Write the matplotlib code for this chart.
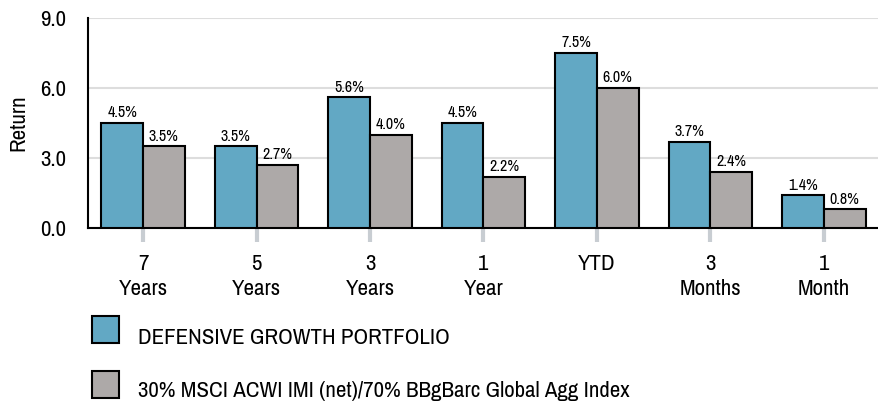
import matplotlib
matplotlib.use("Agg")
import matplotlib.pyplot as plt
import numpy as np
from matplotlib.patches import Rectangle

plt.rcParams['font.family'] = ['Archivo Narrow', 'Liberation Sans', 'DejaVu Sans']

categories = ["7\nYears", "5\nYears", "3\nYears", "1\nYear", "YTD", "3\nMonths", "1\nMonth"]
portfolio = [4.5, 3.5, 5.6, 4.5, 7.5, 3.7, 1.4]
benchmark = [3.5, 2.7, 4.0, 2.2, 6.0, 2.4, 0.8]
series_names = ["DEFENSIVE GROWTH PORTFOLIO",
                "30% MSCI ACWI IMI (net)/70% BBgBarc Global Agg Index"]
yticks = [0.0, 3.0, 6.0, 9.0]

blue = "#62A8C4"
grey = "#ADA9A8"
W, H = 879, 404
FS = 16.5

fig = plt.figure(figsize=(W/100, H/100), dpi=100)
ax = fig.add_axes([88/W, (H-228)/H, 1-88/W, 210/H])

x = np.arange(len(categories))
w = 0.367
b1 = ax.bar(x - w/2, portfolio, w, color=blue, edgecolor="black", linewidth=1.5, zorder=3)
b2 = ax.bar(x + w/2, benchmark, w, color=grey, edgecolor="black", linewidth=1.5, zorder=3)
for bars, vals in ((b1, portfolio), (b2, benchmark)):
    ax.bar_label(bars, labels=[f"{v:.1f}%" for v in vals], padding=2, fontsize=11.5)

ax.set_xlim(-0.485, len(categories) - 1 + 0.485)
ax.set_ylim(0, 9)
ax.set_yticks(yticks)
ax.set_yticklabels([f"{t:.1f}" for t in yticks], fontsize=FS)
ax.tick_params(axis='y', length=0, pad=16)
ax.set_xticks(x)
ax.set_xticklabels(categories, fontsize=FS, linespacing=1.3)
ax.tick_params(axis='x', length=10, width=3, color="#C8CDD2", pad=9)
ax.grid(axis='y', color="#DDDDDD", linewidth=1.5, zorder=0)
ax.set_axisbelow(True)
for s in ("top", "right"):
    ax.spines[s].set_visible(False)
ax.spines['left'].set_linewidth(1.5)
ax.spines['bottom'].set_linewidth(1.5)
ax.set_ylabel("Return", fontsize=FS)
ax.yaxis.set_label_coords(-60/791, 0.5)

# legend drawn in figure pixels
colors = [blue, grey]
patch_tops = [316, 371]
text_base = [344, 397]
for c, top, base, name in zip(colors, patch_tops, text_base, series_names):
    fig.patches.append(Rectangle((92/W, 1 - (top + 27)/H), 27/W, 27/H,
                                 transform=fig.transFigure, facecolor=c,
                                 edgecolor="black", linewidth=1.5))
    fig.text(138/W, 1 - base/H, name, fontsize=FS, va="baseline", ha="left")

fig.savefig("out.png", dpi=100)
